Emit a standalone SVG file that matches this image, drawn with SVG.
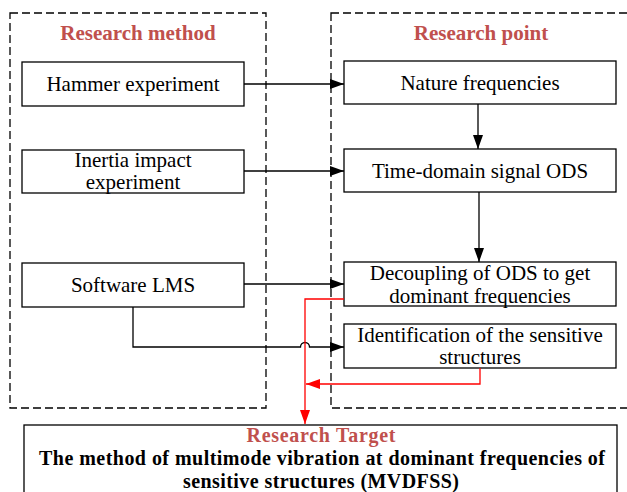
<svg xmlns="http://www.w3.org/2000/svg" width="627" height="492" viewBox="0 0 627 492">
<style>
.frame{fill:none;stroke:#000;stroke-width:1.3;stroke-dasharray:8,4}
.box{fill:#fff;stroke:#000;stroke-width:1.3}
.t{font-family:"Liberation Serif","Times New Roman",serif;font-size:21px;fill:#000;text-anchor:middle}
.title{font-family:"Liberation Serif","Times New Roman",serif;font-size:21px;font-weight:bold;fill:#c0504d;text-anchor:middle}
.bt{font-family:"Liberation Serif","Times New Roman",serif;font-size:20px;font-weight:bold;fill:#000;text-anchor:middle}
.c{fill:none;stroke:#000;stroke-width:1.3}
.r{fill:none;stroke:#ff0000;stroke-width:1.3}
</style>
<defs>
<marker id="ah" viewBox="0 0 14 10" refX="14" refY="5" markerWidth="14" markerHeight="10" markerUnits="userSpaceOnUse" orient="auto"><path d="M0,0 L14,5 L0,10 z" fill="#000"/></marker>
<marker id="ahr" viewBox="0 0 14 10" refX="14" refY="5" markerWidth="14" markerHeight="10" markerUnits="userSpaceOnUse" orient="auto"><path d="M0,0 L14,5 L0,10 z" fill="#ff0000"/></marker>
</defs>
<rect width="627" height="492" fill="#fff"/>
<g id="frame-method">
<rect class="frame" x="10" y="13" width="256" height="395"/>
<text class="title" x="138" y="40">Research method</text>
</g>
<g id="frame-point">
<rect class="frame" x="331" y="13" width="305" height="395"/>
<text class="title" x="481" y="40">Research point</text>
</g>
<g id="hammer">
<rect class="box" x="22" y="62" width="222" height="44"/>
<text class="t" x="133" y="91">Hammer experiment</text>
</g>
<g id="inertia">
<rect class="box" x="22" y="150" width="222" height="43"/>
<text class="t" x="133" y="167">Inertia impact</text>
<text class="t" x="133" y="189">experiment</text>
</g>
<g id="software">
<rect class="box" x="22" y="263" width="222" height="44"/>
<text class="t" x="133" y="292">Software LMS</text>
</g>
<g id="nature">
<rect class="box" x="344" y="61" width="272" height="43"/>
<text class="t" x="480" y="90">Nature frequencies</text>
</g>
<g id="timedomain">
<rect class="box" x="344" y="149" width="272" height="43"/>
<text class="t" x="480" y="178">Time-domain signal ODS</text>
</g>
<g id="decoupling">
<rect class="box" x="344" y="262" width="272" height="44"/>
<text class="t" x="480" y="280">Decoupling of ODS to get</text>
<text class="t" x="480" y="303">dominant frequencies</text>
</g>
<g id="identification">
<rect class="box" x="344" y="324" width="272" height="44"/>
<text class="t" x="480" y="342">Identification of the sensitive</text>
<text class="t" x="480" y="364">structures</text>
</g>
<g id="target">
<rect class="box" x="24" y="425" width="593" height="80"/>
<text class="title" x="321" y="442" style="font-size:20px" textLength="149" lengthAdjust="spacing">Research Target</text>
<text class="bt" x="322" y="465" textLength="566" lengthAdjust="spacing">The method of multimode vibration at dominant frequencies of</text>
<text class="bt" x="321" y="487.5" textLength="276" lengthAdjust="spacing">sensitive structures (MVDFSS)</text>
</g>
<g id="connectors">
<path class="c" d="M244,84 H344" marker-end="url(#ah)"/>
<path class="c" d="M244,171 H344" marker-end="url(#ah)"/>
<path class="c" d="M244,284 H344" marker-end="url(#ah)"/>
<path class="c" d="M133,307 V347 H300.5 A4.5,4.5 0 0 1 309.5,347 H344" marker-end="url(#ah)"/>
<path class="c" d="M478,104 V149" marker-end="url(#ah)"/>
<path class="c" d="M479,192 V262" marker-end="url(#ah)"/>
<path class="r" d="M344,299 H305 V424" marker-end="url(#ahr)"/>
<path class="r" d="M480,368 V384 H306" marker-end="url(#ahr)"/>
</g>
</svg>
